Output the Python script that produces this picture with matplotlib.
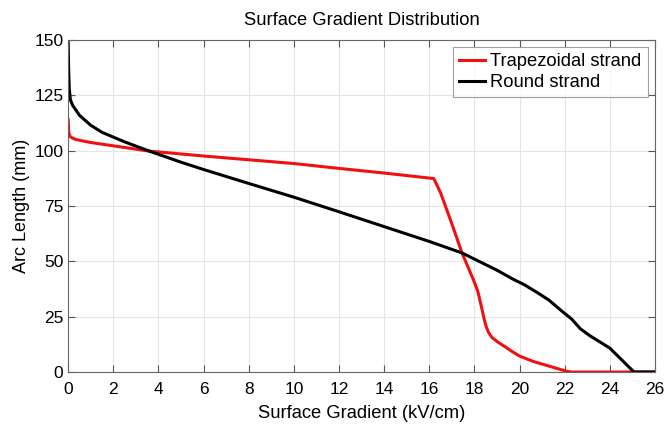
import matplotlib.pyplot as plt

plt.rcParams["font.family"] = ["Liberation Sans", "DejaVu Sans"]

# Trapezoidal strand (x: kV/cm, y: mm)
trap_x = [0.0, 0.03, 0.1, 0.3, 0.6, 1.0, 2.0, 3.6, 6.0, 8.0, 10.0, 12.0, 14.0, 16.2,
          16.5, 17.0, 17.45, 17.96, 18.15, 18.3, 18.42, 18.52, 18.63, 18.78, 19.0,
          19.3, 19.65, 20.0, 20.6, 21.2, 21.7, 22.1, 22.3, 26.0]
trap_y = [114.0, 108.0, 106.2, 105.2, 104.5, 103.7, 102.2, 99.8, 97.6, 95.9, 94.2,
          92.0, 89.9, 87.4, 81.0, 67.0, 53.8, 41.6, 36.5, 30.0, 24.5, 20.5, 17.8,
          15.6, 13.8, 11.8, 9.4, 7.2, 4.8, 3.0, 1.5, 0.3, 0.0, 0.0]

# Round strand
round_x = [0.0, 0.02, 0.05, 0.1, 0.2, 0.5, 1.0, 1.5, 2.5, 3.6, 5.0, 6.0, 8.0, 10.0,
           12.0, 14.0, 16.0, 17.45, 19.0, 19.7, 20.2, 20.8, 21.3, 21.9, 22.3,
           22.7, 23.1, 24.0, 25.07, 26.0]
round_y = [150.0, 138.0, 128.0, 123.0, 120.5, 116.0, 111.5, 108.3, 104.0, 99.8,
           94.8, 91.5, 85.2, 79.0, 72.4, 65.7, 59.0, 53.8, 46.0, 42.0, 39.5, 35.8,
           32.5, 27.3, 24.0, 19.5, 16.5, 10.8, 0.0, 0.0]

x_ticks = list(range(0, 27, 2))
y_ticks = [0, 25, 50, 75, 100, 125, 150]

fig = plt.figure(figsize=(6.68, 4.24), dpi=100)
ax = fig.add_axes([0.102, 0.1226, 0.8785, 0.783])

ax.plot(trap_x, trap_y, color="#ee1111", lw=2.2, label="Trapezoidal strand")
ax.plot(round_x, round_y, color="black", lw=2.2, label="Round strand")

ax.set_xlim(0, 26)
ax.set_ylim(0, 150)
ax.set_xticks(x_ticks)
ax.set_yticks(y_ticks)
ax.grid(True, color="#e4e4e4", lw=0.8)
ax.set_axisbelow(True)
ax.tick_params(direction="in", top=True, right=True, labelsize=12.5,
               color="#555555", length=5)
ax.tick_params(axis="x", pad=7)
for s in ax.spines.values():
    s.set_color("#666666")

ax.set_title("Surface Gradient Distribution", fontsize=13.2, pad=11)
ax.set_xlabel("Surface Gradient (kV/cm)", fontsize=13.2, labelpad=6)
ax.set_ylabel("Arc Length (mm)", fontsize=13, labelpad=3)

leg = ax.legend(loc="upper right", fontsize=13.2, fancybox=False,
                handlelength=1.45, handletextpad=0.27, borderpad=0.33,
                labelspacing=0.22, borderaxespad=0.4)
leg.get_frame().set_edgecolor("#888888")
leg.get_frame().set_linewidth(0.8)

fig.savefig("out.png", dpi=100)
